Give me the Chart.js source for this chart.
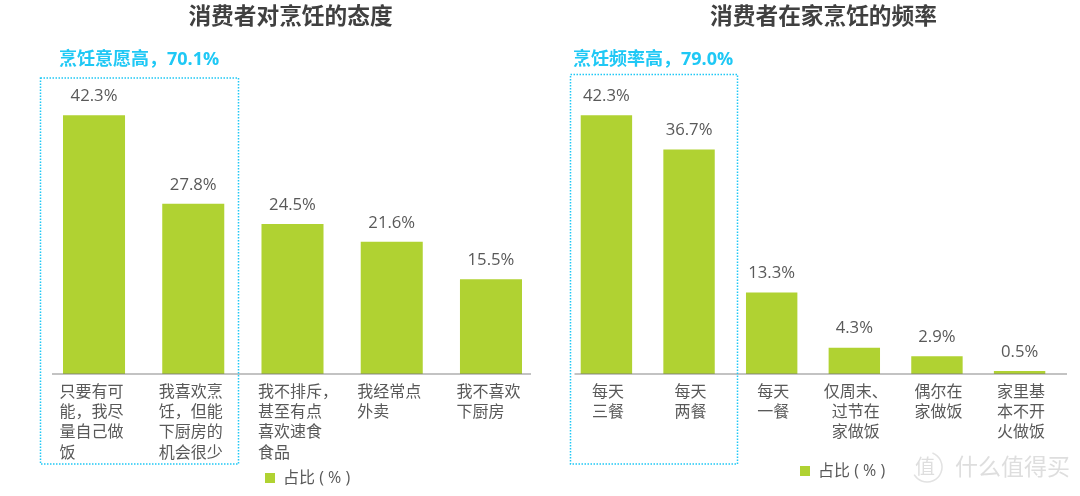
<!DOCTYPE html>
<html><head><meta charset="utf-8">
<script src="https://cdn.jsdelivr.net/npm/chart.js@4"></script>
<style>html,body{margin:0;padding:0;background:#fff;width:1080px;height:496px;overflow:hidden}
canvas{position:absolute;top:0}</style></head>
<body>
<canvas id="c1" width="581" height="496" style="left:0"></canvas>
<canvas id="c2" width="567" height="496" style="left:540px"></canvas>
<script>
const seriesName = '占比 ( % )';
const titleLeft = '消费者对烹饪的态度';
const titleRight = '消费者在家烹饪的频率';
const noteLeft = '烹饪意愿高，70.1%';
const noteRight = '烹饪频率高，79.0%';
const categoriesLeft = [
  ['只要有可','能，我尽','量自己做','饭'],
  ['我喜欢烹','饪，但能','下厨房的','机会很少'],
  ['我不排斥，','甚至有点','喜欢速食','食品'],
  ['我经常点','外卖'],
  ['我不喜欢','下厨房']
];
const valuesLeft = [42.3, 27.8, 24.5, 21.6, 15.5];
const categoriesRight = [
  ['每天','三餐'],
  ['每天','两餐'],
  ['每天','一餐'],
  ['仅周末、','过节在','家做饭'],
  ['偶尔在','家做饭'],
  ['家里基','本不开','火做饭']
];
const valuesRight = [42.3, 36.7, 13.3, 4.3, 2.9, 0.5];

const CJK = '"Noto Sans CJK SC"';
const GREEN = '#B0D232', CYAN = '#1FC8F5', TEXT = '#595959';

function decor(cfg){
  return {
    id:'decor',
    afterLayout(chart){
      const l = chart.legend;
      const w = l.right - l.left;
      l.left = cfg.legendX; l.right = cfg.legendX + w;
      const h = l.bottom - l.top;
      l.top = cfg.legendY; l.bottom = cfg.legendY + h;
      const t = chart.titleBlock;
      t.left += cfg.titleShift; t.right += cfg.titleShift;
      t.top += 1; t.bottom += 1;
    },
    afterDatasetsDraw(chart){
      const c = chart.ctx;
      const base = chart.scales.y.getPixelForValue(0);
      c.save();
      // axis line
      c.strokeStyle = 'rgba(120,120,120,0.6)';
      c.lineWidth = 1.5;
      c.beginPath(); c.moveTo(cfg.axis[0], base); c.lineTo(cfg.axis[1], base); c.stroke();
      // value labels
      c.fillStyle = TEXT;
      c.font = '16.7px "Open Sans"';
      c.textAlign = 'center'; c.textBaseline = 'middle';
      const ds = chart.data.datasets[0];
      chart.getDatasetMeta(0).data.forEach((b,i)=>{
        c.fillText(ds.data[i].toFixed(1)+'%', b.x, b.y-19);
      });
      // highlight box
      c.strokeStyle = CYAN; c.lineWidth = 1.5; c.setLineDash([1.5,1.5]);
      c.strokeRect(cfg.box[0], cfg.box[1], cfg.box[2]-cfg.box[0], cfg.box[3]-cfg.box[1]);
      c.setLineDash([]);
      // note
      c.fillStyle = CYAN;
      c.font = 'bold 18px "Open Sans",'+CJK;
      c.textAlign = 'left';
      c.fillText(cfg.note, cfg.noteX, 60);
      if (cfg.mark){
        c.fillStyle = '#DEDEDE'; c.strokeStyle = '#E2E2E2'; c.lineWidth = 1.5;
        c.font = '23px '+CJK;
        c.fillText('什么值得买', cfg.mark[0], cfg.mark[1]);
        c.font = '20px '+CJK; c.textAlign = 'center';
        c.fillText('值', cfg.mark[2], cfg.mark[1]);
        c.beginPath(); c.arc(cfg.mark[2]+2, cfg.mark[1]+1, 15, -1.2, 2.6); c.stroke();
      }
      c.restore();
    }
  };
}

function makeChart(id, cats, vals, title, pad, barPct, tickOpts, cfg){
  return new Chart(document.getElementById(id), {
    type:'bar',
    data:{labels:cats, datasets:[{label:seriesName, data:vals, backgroundColor:GREEN,
      barPercentage:barPct, categoryPercentage:1}]},
    options:{
      responsive:false, animation:false, devicePixelRatio:1,
      layout:{padding:{left:pad[0], right:pad[1], top:0, bottom:0}},
      plugins:{
        tooltip:{enabled:false},
        title:{display:true, text:title, color:'#404040',
          font:{family:CJK, size:22.7, weight:'bold', lineHeight:1.19}, padding:{top:1,bottom:40}},
        legend:{display:true, position:'chartArea', align:'start',
          labels:{boxWidth:10, boxHeight:10, color:TEXT, padding:8,
            font:{family:'"Open Sans",'+CJK, size:16}}}
      },
      scales:{
        y:{display:false, min:0, max:50},
        x:{offset:true, grid:{display:false, drawTicks:false}, border:{display:false},
          ticks:Object.assign({autoSkip:false, maxRotation:0, minRotation:0, padding:7, color:TEXT,
            font:{family:CJK, size:16, lineHeight:1.26}}, tickOpts),
          afterFit(s){ s.height = 496-374; s.paddingLeft = 0; s.paddingRight = 0; s.paddingTop = 0; s.paddingBottom = 0; }
        }
      }
    },
    plugins:[decor(cfg)]
  });
}

makeChart('c1', categoriesLeft, valuesLeft, titleLeft, [44.4, 40.4], 0.625,
  {align:'start', labelOffset:-34.5},
  {axis:[52,531], box:[40.5,78,238.5,464], note:noteLeft, noteX:59, legendX:257, legendY:462, titleShift:-2});

makeChart('c2', categoriesRight, valuesRight, titleRight, [25.1, 46.1], 0.622,
  {align:'center', labelOffset:1.5},
  {axis:[34.5,527], box:[30.5,74.5,197.5,464], note:noteRight, noteX:33, legendX:252, legendY:455, titleShift:10.5, mark:[415,466,385]});
</script>
</body></html>
